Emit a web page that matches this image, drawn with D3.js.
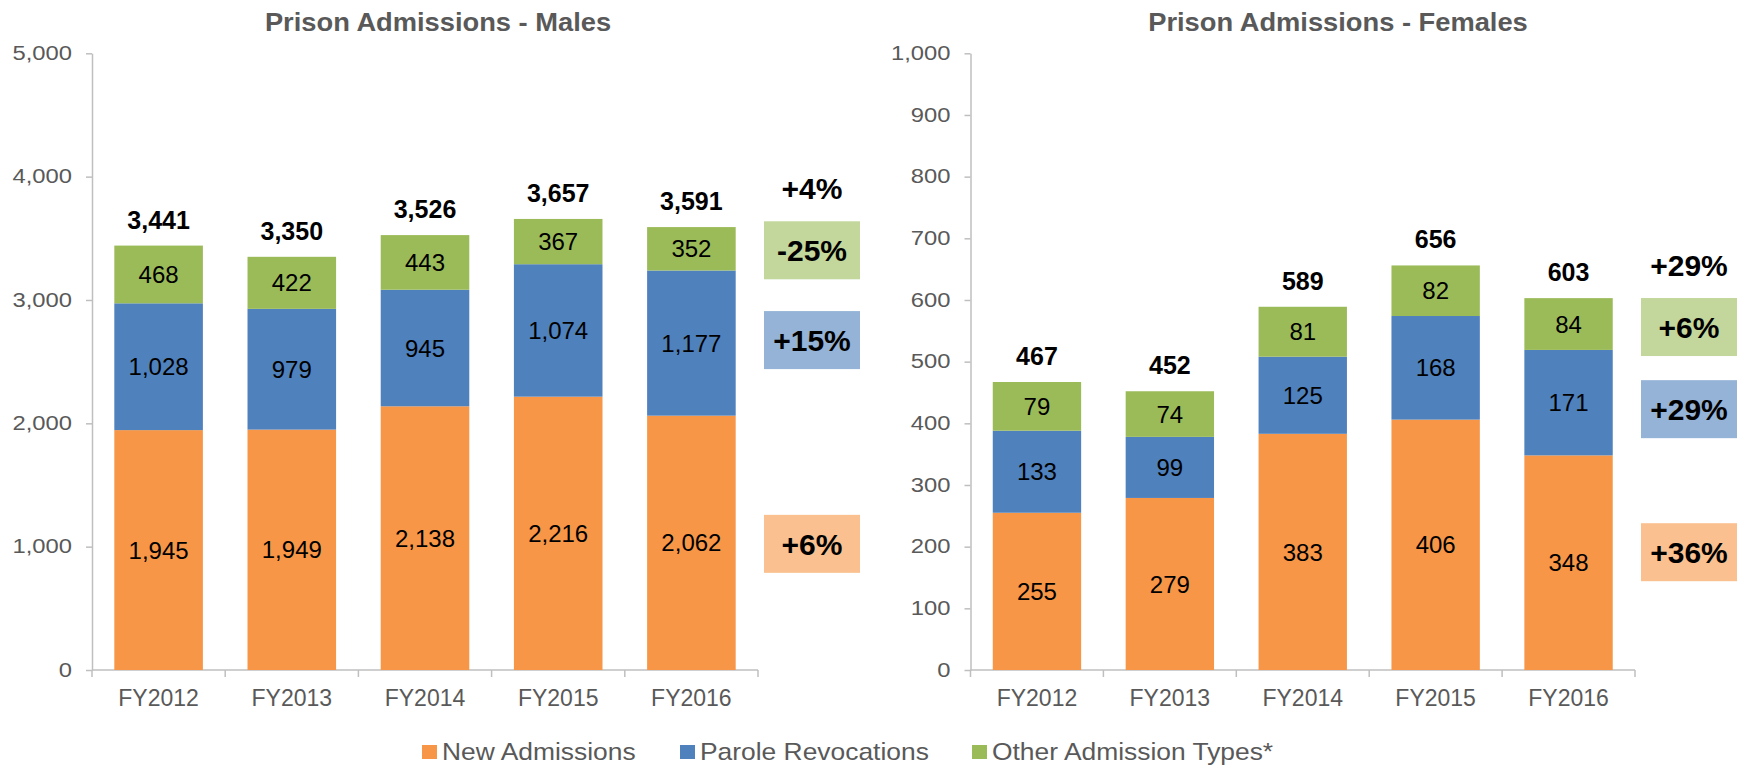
<!DOCTYPE html>
<html>
<head>
<meta charset="utf-8">
<script src="https://cdn.jsdelivr.net/npm/d3@7"></script>
<style>
  body { margin: 0; background: #fff; }
  svg text { font-family: "Liberation Sans", Arial, sans-serif; }
</style>
</head>
<body>
<div id="chart"></div>
<script>
// data
var years = ["FY2012", "FY2013", "FY2014", "FY2015", "FY2016"];
var seriesNames = ["New Admissions", "Parole Revocations", "Other Admission Types*"];

var maleNew = [1945, 1949, 2138, 2216, 2062];
var maleParole = [1028, 979, 945, 1074, 1177];
var maleOther = [468, 422, 443, 367, 352];
var maleChange = ["+6%", "+15%", "-25%"];
var maleTotalChange = "+4%";

var femaleNew = [255, 279, 383, 406, 348];
var femaleParole = [133, 99, 125, 168, 171];
var femaleOther = [79, 74, 81, 82, 84];
var femaleChange = ["+36%", "+29%", "+6%"];
var femaleTotalChange = "+29%";

var barColors = ["#f79646", "#4f81bd", "#9bbb59"];
var boxColors = ["#fac090", "#95b3d7", "#c3d69b"];

var W = 1750, H = 767;
var svg = d3.select("#chart").append("svg")
    .attr("width", W)
    .attr("height", H);

function rows(a, b, c) {
    return years.map(function (y, i) { return { year: y, s0: a[i], s1: b[i], s2: c[i] }; });
}

function drawPanel(cfg) {
    var data = rows(cfg.a, cfg.b, cfg.c);
    var keys = ["s0", "s1", "s2"];
    var stacked = d3.stack().keys(keys)(data);

    var pad = 0.335;
    var x = d3.scaleBand().domain(years).range([cfg.left, cfg.right])
        .paddingInner(pad).paddingOuter(pad / 2);
    var y = d3.scaleLinear().domain([0, cfg.max]).range([670, 53.3]);

    var g = svg.append("g");

    // title
    g.append("text")
        .attr("transform", "translate(" + cfg.titleX + ",31) scale(1.05,1)")
        .attr("text-anchor", "middle")
        .style("font-size", "26px")
        .style("font-weight", "bold")
        .style("fill", "#595959")
        .text(cfg.title);

    // y axis
    var yAxis = g.append("g")
        .attr("transform", "translate(" + cfg.left + ",0)")
        .call(d3.axisLeft(y).tickValues(d3.range(0, cfg.max + 1, cfg.step))
            .tickFormat(d3.format(",")).tickSize(6).tickSizeOuter(0));
    yAxis.select(".domain").attr("stroke", "#bfbfbf").attr("stroke-width", 1.5);
    yAxis.selectAll(".tick line").attr("stroke", "#bfbfbf").attr("stroke-width", 1.5);
    yAxis.selectAll(".tick text")
        .attr("transform", "scale(1.22,1)")
        .attr("x", -20 / 1.22)
        .style("font-size", "19.5px")
        .style("fill", "#595959");

    // x axis: line with ticks at category boundaries
    var step = x.step();
    g.append("line")
        .attr("x1", cfg.left).attr("x2", cfg.right)
        .attr("y1", y(0)).attr("y2", y(0))
        .attr("stroke", "#bfbfbf").attr("stroke-width", 1.5);
    g.selectAll(".xtick").data(d3.range(years.length + 1)).enter().append("line")
        .attr("x1", function (i) { return cfg.left + i * step; })
        .attr("x2", function (i) { return cfg.left + i * step; })
        .attr("y1", y(0)).attr("y2", y(0) + 7)
        .attr("stroke", "#bfbfbf").attr("stroke-width", 1.5);
    g.selectAll(".xlab").data(years).enter().append("text")
        .attr("x", function (d) { return x(d) + x.bandwidth() / 2; })
        .attr("y", 706)
        .attr("text-anchor", "middle")
        .style("font-size", "23px")
        .style("fill", "#595959")
        .text(function (d) { return d; });

    // bars
    var layers = g.selectAll(".layer").data(stacked).enter().append("g")
        .attr("fill", function (d, i) { return barColors[i]; });
    layers.selectAll("rect").data(function (d) { return d; }).enter().append("rect")
        .attr("x", function (d) { return x(d.data.year); })
        .attr("width", x.bandwidth())
        .attr("y", function (d) { return y(d[1]); })
        .attr("height", function (d) { return y(d[0]) - y(d[1]); });

    // segment labels
    layers.selectAll("text").data(function (d) { return d; }).enter().append("text")
        .attr("x", function (d) { return x(d.data.year) + x.bandwidth() / 2; })
        .attr("y", function (d) { return y((d[0] + d[1]) / 2); })
        .attr("dy", "0.36em")
        .attr("text-anchor", "middle")
        .style("font-size", "24px")
        .style("fill", "#000")
        .text(function (d) { return d3.format(",")(d[1] - d[0]); });

    // totals
    g.selectAll(".total").data(data).enter().append("text")
        .attr("x", function (d) { return x(d.year) + x.bandwidth() / 2; })
        .attr("y", function (d) { return y(d.s0 + d.s1 + d.s2) - 17; })
        .attr("text-anchor", "middle")
        .style("font-size", "25px")
        .style("font-weight", "bold")
        .text(function (d) { return d3.format(",")(d.s0 + d.s1 + d.s2); });

    // change boxes next to the last bar, roughly level with each segment
    var last = stacked.map(function (s) { return s[s.length - 1]; });
    var bx = cfg.right + 6, bw = 96, bh = 58;
    function boxTop(d, i) { return y((d[0] + d[1]) / 2) + cfg.boxShift[i] - bh / 2; }
    var boxes = g.selectAll(".box").data(last).enter().append("g")
        .attr("transform", function (d, i) { return "translate(" + bx + "," + boxTop(d, i) + ")"; });
    boxes.append("rect")
        .attr("width", bw).attr("height", bh)
        .attr("fill", function (d, i) { return boxColors[i]; });
    boxes.append("text")
        .attr("x", bw / 2).attr("y", bh / 2).attr("dy", "0.36em")
        .attr("text-anchor", "middle")
        .style("font-size", "30px")
        .style("font-weight", "bold")
        .text(function (d, i) { return cfg.change[i]; });

    g.append("text")
        .attr("x", bx + bw / 2).attr("y", boxTop(last[2], 2) - 22)
        .attr("text-anchor", "middle")
        .style("font-size", "30px")
        .style("font-weight", "bold")
        .text(cfg.totalChange);
}

drawPanel({
    title: "Prison Admissions - Males", titleX: 438,
    left: 92, right: 758, max: 5000, step: 1000,
    a: maleNew, b: maleParole, c: maleOther,
    change: maleChange, totalChange: maleTotalChange,
    boxShift: [1, -3, 1.5]
});

drawPanel({
    title: "Prison Admissions - Females", titleX: 1338,
    left: 970.5, right: 1635, max: 1000, step: 100,
    a: femaleNew, b: femaleParole, c: femaleOther,
    change: femaleChange, totalChange: femaleTotalChange,
    boxShift: [-10.5, 6.5, 3]
});

// legend
var legendX = [422, 680, 972];
var legend = svg.append("g").selectAll("g").data(seriesNames).enter().append("g")
    .attr("transform", function (d, i) { return "translate(" + legendX[i] + ",0)"; });
legend.append("rect")
    .attr("y", 745).attr("width", 15).attr("height", 14)
    .attr("fill", function (d, i) { return barColors[i]; });
legend.append("text")
    .attr("transform", "translate(20,760) scale(1.1,1)")
    .style("font-size", "24px")
    .style("fill", "#595959")
    .text(function (d) { return d; });
</script>
</body>
</html>
